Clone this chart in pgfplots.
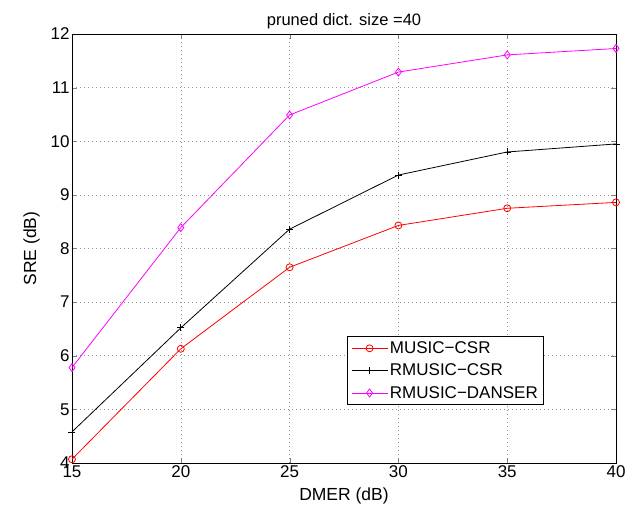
\documentclass[border=0pt]{standalone}
\usepackage{pgfplots}
\pgfplotsset{compat=1.18}
\usepackage{fontspec}
\setmainfont{Liberation Sans}
\definecolor{mag}{rgb}{1,0,1}
\definecolor{pureRed}{rgb}{1,0,0}
\begin{document}
\begin{tikzpicture}
\begin{axis}[
  scale only axis,
  width=544bp, height=429bp,
  xmin=15, xmax=40, ymin=4, ymax=12,
  xtick={15,20,25,30,35,40},
  ytick={4,5,6,7,8,9,10,11,12},
  grid=major,
  major grid style={dash pattern=on 1bp off 3bp, gray!85, line width=0.6pt},
  tick align=inside,
  tick pos=both,
  major tick length=5bp,
  axis line style={line width=1pt},
  /pgf/number format/assume math mode=true,
  ticklabel style={font=\fontsize{17bp}{19bp}\selectfont},
  xticklabel style={yshift=1bp},
  yticklabel style={xshift=1bp},
  label style={font=\fontsize{17.5bp}{19bp}\selectfont},
  title style={font=\fontsize{16.5bp}{18bp}\selectfont, yshift=-4bp},
  title={pruned dict. size =40},
  xlabel={DMER (dB)},
  ylabel={SRE (dB)},
  xlabel style={yshift=-3bp},
  ylabel style={yshift=4bp},
  legend style={at={(0.868,0.135)}, anchor=south east, font=\fontsize{17bp}{19bp}\selectfont, draw=black, line width=0.8pt, row sep=5bp, inner sep=3bp, inner xsep=4bp},
  legend cell align=left,
  legend image code/.code={
    \draw[mark repeat=2,mark phase=2] plot coordinates {(0bp,0bp) (18bp,0bp) (36bp,0bp)};
  },
]
\addplot[pureRed, line width=0.8pt, mark=o, mark size=3.5bp, mark options={solid}] coordinates {
(15,4.07) (20,6.13) (25,7.65) (30,8.43) (35,8.75) (40,8.86)};
\addlegendentry{MUSIC\textminus CSR}
\addplot[black, line width=0.8pt, mark=+, mark size=3.5bp] coordinates {
(15,4.58) (20,6.52) (25,8.36) (30,9.37) (35,9.80) (40,9.95)};
\addlegendentry{RMUSIC\textminus CSR}
\addplot[mag, line width=0.8pt, mark=diamond, mark size=4bp] coordinates {
(15,5.78) (20,8.39) (25,10.49) (30,11.29) (35,11.61) (40,11.73)};
\addlegendentry{RMUSIC\textminus DANSER}
\end{axis}
\pgfresetboundingbox
\path (current axis.south west) ++(-72bp,-48bp) rectangle ++(642bp,511bp);
\end{tikzpicture}
\end{document}
